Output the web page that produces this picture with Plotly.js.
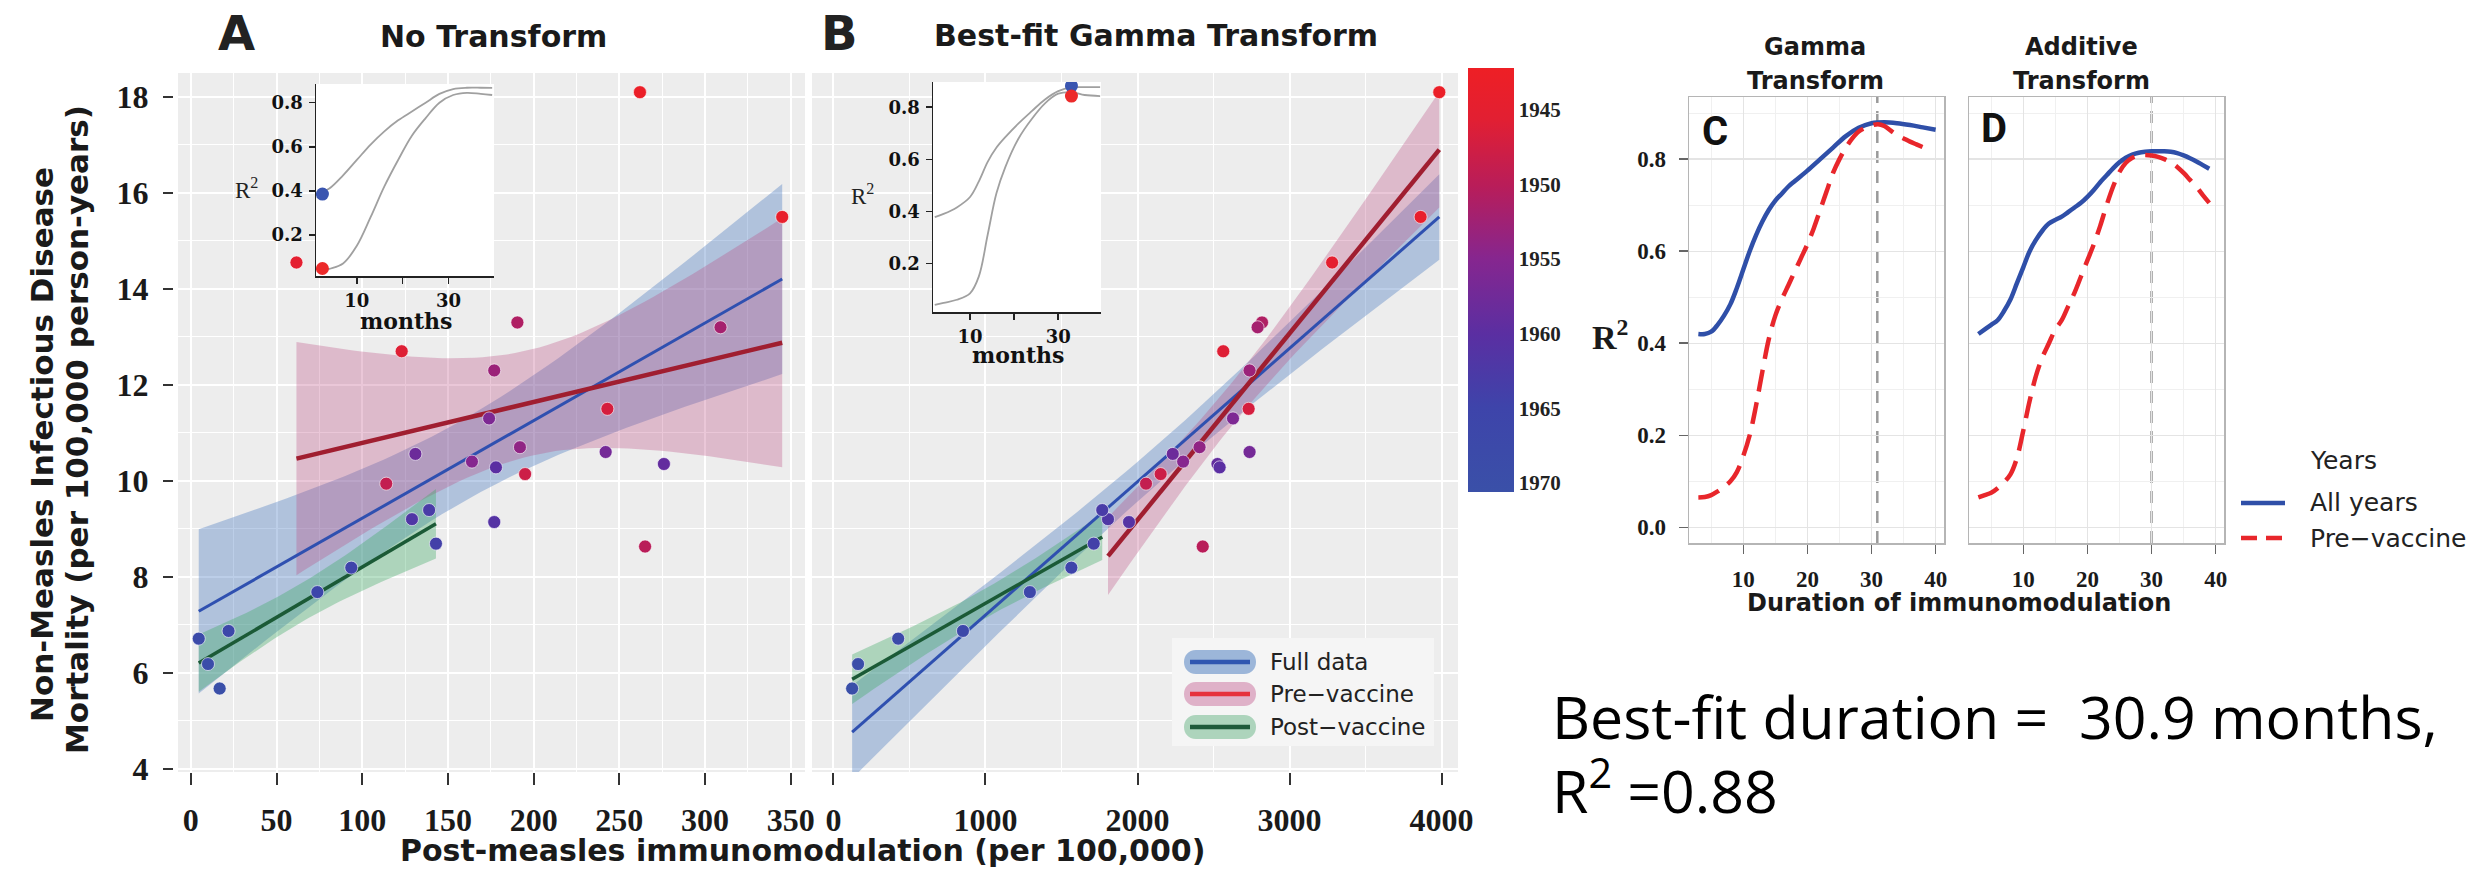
<!DOCTYPE html>
<html>
<head>
<meta charset="utf-8">
<script src="https://cdn.plot.ly/plotly-3.0.1.min.js"></script>
<style>
html,body{margin:0;padding:0;background:#ffffff;}
#chart{width:2483px;height:880px;}
</style>
</head>
<body>
<div id="chart"></div>
<script>
// ---------------- DATA ----------------
const years = [1943,1944,1945,1946,1947,1948,1949,1950,1951,1952,1953,1954,1955,1956,1957,1958,1959,1960,1961,1962,1963,1964,1965,1966,1967,1968,1969,1970];
const mortality = [18.1,15.5,14.55,12.7,11.5,10.14,9.94,8.63,13.3,13.2,12.3,10.7,10.4,11.3,10.6,10.56,10.35,10.28,9.14,9.2,9.39,8.69,8.19,7.68,6.87,6.71,6.18,5.67];
const immunoNoTransform = [262,345,61.6,123,243,195,114,265,190.5,309,177,192,164,174,242,131,276,178,177,129,139,143,93.6,73.8,22,4.6,10,16.8];
const immunoGamma = [3985,3862,3280,2564,2731,2152,2056,2429,2819,2790,2737,2408,2300,2628,2737,2232,2526,2540,1944,1806,1768,1712,1565,1292,852,426,162,123];
const vaccineYear = 1963;
const colorbarYears = [1945,1950,1955,1960,1965,1970];

// inset A (no transform) R2 vs months
const insetMonthsA = [1.5,4,7,10,13,16,19,22,25,28,31,34,37,39.5];
const insetAllA = [0.385,0.41,0.47,0.54,0.61,0.67,0.72,0.76,0.80,0.84,0.862,0.868,0.868,0.867];
const insetPreA = [0.03,0.045,0.07,0.15,0.28,0.42,0.54,0.65,0.73,0.80,0.835,0.845,0.84,0.835];
const insetDotMonthsA = [2.5,2.5];
const insetDotR2A = [0.385,0.047];
// inset B (gamma transform)
const insetMonthsB = [2,4,7,10,12,14,16,18,21,24,27,30,33,36,39.5];
const insetAllB = [0.378,0.39,0.415,0.455,0.515,0.59,0.645,0.685,0.738,0.785,0.83,0.862,0.876,0.877,0.877];
const insetPreB = [0.04,0.048,0.06,0.085,0.15,0.31,0.47,0.57,0.68,0.755,0.815,0.852,0.858,0.847,0.843];
const insetDotMonthsB = [33,33];
const insetDotR2B = [0.882,0.843];
const insetTickMonths = [10,30];
const insetMinorMonths = [20];
const insetTickR2 = [0.2,0.4,0.6,0.8];

// panel C (gamma transform)
const monthsCAll = [3,4,5,6,7,8,9,10,11,12,13,14,15,16,17,18,20,22,24,26,28,30,32,34,36,38,40];
const r2CAll = [0.42,0.42,0.425,0.44,0.46,0.485,0.52,0.56,0.60,0.635,0.665,0.69,0.71,0.725,0.74,0.752,0.775,0.80,0.825,0.85,0.868,0.878,0.88,0.878,0.874,0.869,0.864];
const monthsCPre = [3,4,5,6,7,8,9,10,11,12,13,14,15,16,17,18,19,20,21,22,23,24,25,26,27,28,29,30,31,32,33,34,35,36,37,38];
const r2CPre = [0.065,0.066,0.07,0.078,0.088,0.1,0.12,0.155,0.2,0.265,0.34,0.41,0.46,0.495,0.525,0.555,0.585,0.615,0.65,0.69,0.73,0.77,0.8,0.825,0.845,0.86,0.868,0.873,0.876,0.872,0.862,0.852,0.845,0.838,0.832,0.826];
// panel D (additive transform)
const monthsD = [3,4,5,6,7,8,9,10,11,12,13,14,15,16,17,18,19,20,21,22,23,24,25,26,27,28,29,30,31,32,33,34,35,36,37,38,39];
const r2DAll = [0.42,0.43,0.44,0.45,0.47,0.495,0.53,0.565,0.6,0.625,0.645,0.66,0.668,0.675,0.685,0.695,0.705,0.718,0.733,0.75,0.765,0.78,0.793,0.803,0.81,0.814,0.816,0.817,0.817,0.817,0.816,0.813,0.808,0.802,0.795,0.787,0.779];
const r2DPre = [0.065,0.07,0.075,0.085,0.098,0.115,0.15,0.21,0.275,0.33,0.37,0.40,0.43,0.45,0.48,0.51,0.545,0.58,0.615,0.655,0.7,0.74,0.772,0.792,0.803,0.808,0.809,0.808,0.805,0.8,0.793,0.783,0.77,0.755,0.74,0.722,0.705];
const bestFitC = 30.9;
const bestFitD = 30;

// ---------------- HELPERS ----------------
const W = 2483, H = 880;
const px = v => v / W;
const py = v => 1 - v / H;
const T975 = [12.706,4.303,3.182,2.776,2.571,2.447,2.365,2.306,2.262,2.228,2.201,2.179,2.160,2.145,2.131,2.120,2.110,2.101,2.093,2.086,2.080,2.074,2.069,2.064,2.060,2.056,2.052,2.048,2.045,2.042];

function lmBand(xs, ys, steps) {
  const n = xs.length;
  const mx = xs.reduce((a,b)=>a+b,0)/n, my = ys.reduce((a,b)=>a+b,0)/n;
  let sxx = 0, sxy = 0;
  for (let i=0;i<n;i++){ sxx += (xs[i]-mx)*(xs[i]-mx); sxy += (xs[i]-mx)*(ys[i]-my); }
  const b = sxy/sxx, a = my - b*mx;
  let sse = 0;
  for (let i=0;i<n;i++){ const r = ys[i]-a-b*xs[i]; sse += r*r; }
  const s = Math.sqrt(sse/(n-2));
  const t = (n-2) <= 30 ? T975[n-3] : 1.96;
  const lo = Math.min(...xs), hi = Math.max(...xs);
  const gx=[], fit=[], up=[], dn=[];
  for (let k=0;k<=steps;k++){
    const x = lo + (hi-lo)*k/steps;
    const f = a + b*x;
    const se = s*Math.sqrt(1/n + (x-mx)*(x-mx)/sxx);
    gx.push(x); fit.push(f); up.push(f+t*se); dn.push(f-t*se);
  }
  return {gx, fit, up, dn};
}

const preIdx = years.map((y,i)=> y < vaccineYear ? i : -1).filter(i=>i>=0);
const postIdx = years.map((y,i)=> y >= vaccineYear ? i : -1).filter(i=>i>=0);

function panelTraces(xv, xa, ya) {
  const groups = [
    {xs: xv, ys: mortality, fill:'rgba(70,120,190,0.36)', line:'#2f50b0', w:3},
    {xs: preIdx.map(i=>xv[i]), ys: preIdx.map(i=>mortality[i]), fill:'rgba(185,70,125,0.30)', line:'#a01e30', w:4.5},
    {xs: postIdx.map(i=>xv[i]), ys: postIdx.map(i=>mortality[i]), fill:'rgba(60,170,100,0.36)', line:'#1b5a36', w:3.5}
  ];
  const ribbons = [], lines = [];
  groups.forEach(g => {
    const r = lmBand(g.xs, g.ys, 60);
    ribbons.push({type:'scatter', mode:'lines', xaxis:xa, yaxis:ya,
      x: r.gx.concat(r.gx.slice().reverse()), y: r.up.concat(r.dn.slice().reverse()),
      fill:'toself', fillcolor:g.fill, line:{width:0}, hoverinfo:'skip', showlegend:false});
    lines.push({type:'scatter', mode:'lines', xaxis:xa, yaxis:ya, x:r.gx, y:r.fit,
      line:{color:g.line, width:g.w}, hoverinfo:'skip', showlegend:false});
  });
  const pts = {type:'scatter', mode:'markers', xaxis:xa, yaxis:ya, x:xv, y:mortality,
    marker:{size:13, color: years.map(y=>-y), coloraxis:'coloraxis', line:{width:1, color:'rgba(255,255,255,0.6)'}},
    hoverinfo:'skip', showlegend:false};
  return ribbons.concat(lines, [pts]);
}

function insetTraces(months, allv, prev, dotM, dotR, xa, ya) {
  return [
    {type:'scatter', mode:'lines', xaxis:xa, yaxis:ya, x:months, y:allv, line:{color:'#a0a0a0', width:1.8, shape:'spline'}, showlegend:false, hoverinfo:'skip'},
    {type:'scatter', mode:'lines', xaxis:xa, yaxis:ya, x:months, y:prev, line:{color:'#a0a0a0', width:1.8, shape:'spline'}, showlegend:false, hoverinfo:'skip'},
    {type:'scatter', mode:'markers', xaxis:xa, yaxis:ya, x:[dotM[0]], y:[dotR[0]], marker:{size:13, color:'#3a55b0'}, showlegend:false, hoverinfo:'skip'},
    {type:'scatter', mode:'markers', xaxis:xa, yaxis:ya, x:[dotM[1]], y:[dotR[1]], marker:{size:13, color:'#ec2a2a'}, showlegend:false, hoverinfo:'skip'}
  ];
}

const blueCD = '#2f4fa8', redCD = '#e8262b', dashCD = '22px,11px';
const traces = []
  .concat(panelTraces(immunoNoTransform, 'x', 'y'))
  .concat(panelTraces(immunoGamma, 'x2', 'y2'))
  .concat(insetTraces(insetMonthsA, insetAllA, insetPreA, insetDotMonthsA, insetDotR2A, 'x3', 'y3'))
  .concat(insetTraces(insetMonthsB, insetAllB, insetPreB, insetDotMonthsB, insetDotR2B, 'x4', 'y4'))
  .concat([
    {type:'scatter', mode:'lines', xaxis:'x5', yaxis:'y5', x:monthsCAll, y:r2CAll, name:'All years',
      line:{color:blueCD, width:4.5, shape:'spline'}, showlegend:false, hoverinfo:'skip'},
    {type:'scatter', mode:'lines', xaxis:'x5', yaxis:'y5', x:monthsCPre, y:r2CPre, name:'Pre\u2212vaccine',
      line:{color:redCD, width:4.5, dash:dashCD, shape:'spline'}, showlegend:false, hoverinfo:'skip'},
    {type:'scatter', mode:'lines', xaxis:'x6', yaxis:'y6', x:monthsD, y:r2DAll, name:'All years',
      line:{color:blueCD, width:4.5, shape:'spline'}, showlegend:false, hoverinfo:'skip'},
    {type:'scatter', mode:'lines', xaxis:'x6', yaxis:'y6', x:monthsD, y:r2DPre, name:'Pre\u2212vaccine',
      line:{color:redCD, width:4.5, dash:dashCD, shape:'spline'}, showlegend:false, hoverinfo:'skip'}
  ]);

// ---------------- AXES ----------------
const rangeY = [3.93, 18.5];
const rangeAx = [-7.5, 358.3];
const rangeBx = [-141, 4108];
const rangeInsetA = {x:[1.1,39.9], y:[0.013,0.885]};
const rangeInsetB = {x:[1.6,39.7], y:[0.013,0.897]};
const rangeCDx = [1.54, 41.3];
const rangeCDy = [-0.034, 0.935];

const serifBold = (size) => ({family:'Liberation Serif', size:size, color:'#1a1a1a', weight:'bold'});
const dvSerifBold = (size) => ({family:'DejaVu Serif', size:size, color:'#111', weight:'bold'});

const mainX = (dom, rng, dtick, anchor) => ({domain:dom, range:rng, tick0:0, dtick:dtick, ticks:'outside', ticklen:12, tickwidth:2, tickcolor:'#333',
  tickfont:serifBold(32), showgrid:true, gridcolor:'#ffffff', gridwidth:2,
  minor:{dtick:dtick/2, showgrid:true, gridcolor:'#ffffff', gridwidth:1, ticks:''},
  zeroline:false, showline:false, anchor:anchor, ticklabelstandoff:8, fixedrange:true});

const insetAx = (dom, rng, anchor, vals, minorVals) => ({domain:dom, range:rng, tickmode:'array', tickvals:vals,
  ticks:'outside', ticklen:6, tickwidth:1.5, tickcolor:'#222', showline:true, linecolor:'#222', linewidth:1.5,
  minor: minorVals ? {tickmode:'array', tickvals:minorVals, ticks:'outside', ticklen:6, tickwidth:1.5, tickcolor:'#222', showgrid:false} : undefined,
  showgrid:false, zeroline:false, anchor:anchor, tickfont:dvSerifBold(18), ticklabelstandoff:2, fixedrange:true});

const cdX = (dom, anchor) => ({domain:dom, range:rangeCDx, tick0:0, dtick:10, ticks:'outside', ticklen:9, tickwidth:1.5, tickcolor:'#666',
  tickfont:serifBold(23), showline:true, mirror:true, linecolor:'#b5b5b5', linewidth:1.5, showgrid:true, gridcolor:'#e4e4e4', gridwidth:1.3,
  minor:{dtick:5, showgrid:true, gridcolor:'#f0f0f0', gridwidth:1, ticks:''}, zeroline:false, anchor:anchor, ticklabelstandoff:6, fixedrange:true});
const cdY = (dom, anchor, labels) => ({domain:dom, range:rangeCDy, tick0:0, dtick:0.2, tickformat:'.1f', ticks: labels ? 'outside' : '', ticklen:9, tickwidth:1.5, tickcolor:'#666',
  showticklabels:labels, tickfont:serifBold(23), showline:true, mirror:true, linecolor:'#b5b5b5', linewidth:1.5, showgrid:true, gridcolor:'#e4e4e4', gridwidth:1.3,
  minor:{dtick:0.1, showgrid:true, gridcolor:'#f0f0f0', gridwidth:1, ticks:''}, zeroline:false, anchor:anchor, ticklabelstandoff:8, fixedrange:true});

const domAB_y = [py(772), py(73)];
const domCD_y = [py(543), py(97)];

// ---------------- TEXT ----------------
const sansBold = (size) => ({family:'DejaVu Sans', size:size, color:'#1a1a1a', weight:'bold'});
function ann(text, x, y, font, extra) {
  return Object.assign({text:text, x:px(x), y:py(y), xref:'paper', yref:'paper', showarrow:false, xanchor:'center', yanchor:'middle', font:font}, extra || {});
}
const annotations = [
  ann('A', 236, 33, {family:'DejaVu Sans', size:48, color:'#222', weight:'bold'}),
  ann('No Transform', 494, 37, sansBold(30)),
  ann('B', 839, 33, {family:'DejaVu Sans', size:48, color:'#222', weight:'bold'}),
  ann('Best-fit Gamma Transform', 1156, 36, sansBold(30)),
  ann('Non-Measles Infectious Disease', 42, 445, sansBold(31), {textangle:-90}),
  ann('Mortality (per 100,000 person-years)', 77, 430, sansBold(31), {textangle:-90}),
  ann('Post-measles immunomodulation (per 100,000)', 802, 850, sansBold(30)),
  ann('R<sup>2</sup>', 246, 188, {family:'Liberation Serif', size:23, color:'#222'}),
  ann('months', 406, 321, dvSerifBold(22)),
  ann('R<sup>2</sup>', 862, 194, {family:'Liberation Serif', size:23, color:'#222'}),
  ann('months', 1018, 355, dvSerifBold(22)),
  ann('Gamma', 1815, 47, sansBold(24)),
  ann('Transform', 1815, 81, sansBold(24)),
  ann('Additive', 2081, 47, sansBold(24)),
  ann('Transform', 2081, 81, sansBold(24)),
  ann('C', 1715, 131, {family:'Roboto', size:40, color:'#111', weight:'bold'}),
  ann('D', 1994, 128, {family:'Roboto', size:40, color:'#111', weight:'bold'}),
  ann('R<sup>2</sup>', 1610, 335, serifBold(34)),
  ann('Duration of immunomodulation', 1959, 603, sansBold(24)),
  ann('Best-fit duration =\u00a0 30.9 months,', 1550, 716, {family:'Open Sans', size:59, color:'#000'}, {xanchor:'left'}),
  ann('R<sup>2</sup> =0.88', 1550, 787, {family:'Open Sans', size:59, color:'#000'}, {xanchor:'left'}),
  ann('Years', 2308, 460, {family:'DejaVu Sans', size:25, color:'#222'}, {xanchor:'left'}),
  ann('All years', 2308, 503, {family:'DejaVu Sans', size:25, color:'#222'}, {xanchor:'left'}),
  ann('Pre\u2212vaccine', 2308, 538, {family:'DejaVu Sans', size:25, color:'#222'}, {xanchor:'left'})
];

// custom legend for panel B
const legRows = [
  {label:'Full data', y:662, pill:'rgba(140,170,212,0.85)', line:'#2f56b0'},
  {label:'Pre\u2212vaccine', y:694, pill:'rgba(218,165,192,0.85)', line:'#e6303c'},
  {label:'Post\u2212vaccine', y:727, pill:'rgba(160,206,178,0.85)', line:'#1e5a3a'}
];
const shapes = [
  {type:'rect', xref:'x', yref:'y', x0:rangeAx[0], x1:rangeAx[1], y0:rangeY[0], y1:rangeY[1], fillcolor:'#ededed', line:{width:0}, layer:'below'},
  {type:'rect', xref:'x2', yref:'y2', x0:rangeBx[0], x1:rangeBx[1], y0:rangeY[0], y1:rangeY[1], fillcolor:'#ededed', line:{width:0}, layer:'below'},
  {type:'rect', xref:'x3', yref:'y3', x0:rangeInsetA.x[0], x1:rangeInsetA.x[1], y0:rangeInsetA.y[0], y1:rangeInsetA.y[1], fillcolor:'#ffffff', line:{width:0}, layer:'below'},
  {type:'rect', xref:'x4', yref:'y4', x0:rangeInsetB.x[0], x1:rangeInsetB.x[1], y0:rangeInsetB.y[0], y1:rangeInsetB.y[1], fillcolor:'#ffffff', line:{width:0}, layer:'below'},
  {type:'line', xref:'x5', yref:'y5', x0:bestFitC, x1:bestFitC, y0:rangeCDy[0], y1:rangeCDy[1], line:{color:'#9a9a9a', width:2.5, dash:'12px,8px'}, layer:'below'},
  {type:'line', xref:'x6', yref:'y6', x0:bestFitD, x1:bestFitD, y0:rangeCDy[0], y1:rangeCDy[1], line:{color:'#9a9a9a', width:2.5, dash:'12px,8px'}, layer:'below'},
  {type:'rect', xref:'paper', yref:'paper', x0:px(1172), x1:px(1434), y0:py(746), y1:py(638), fillcolor:'#f5f5f5', line:{width:0}, layer:'above'},
  // C/D legend keys
  {type:'line', xref:'paper', yref:'paper', x0:px(2241), x1:px(2285), y0:py(503), y1:py(503), line:{color:blueCD, width:4.5}, layer:'above'},
  {type:'line', xref:'paper', yref:'paper', x0:px(2241), x1:px(2285), y0:py(538), y1:py(538), line:{color:redCD, width:4.5, dash:'16px,9px'}, layer:'above'}
];
legRows.forEach(r => {
  shapes.push({type:'path', xref:'paper', yref:'paper', xsizemode:'pixel', ysizemode:'pixel', xanchor:px(1220), yanchor:py(r.y),
    path:'M-24,-12 L24,-12 C40,-12 40,12 24,12 L-24,12 C-40,12 -40,-12 -24,-12 Z', fillcolor:r.pill, line:{width:0}, layer:'above'});
  shapes.push({type:'line', xref:'paper', yref:'paper', x0:px(1190), x1:px(1250), y0:py(r.y), y1:py(r.y), line:{color:r.line, width:4.5}, layer:'above'});
  annotations.push(ann(r.label, 1268, r.y, {family:'DejaVu Sans', size:23, color:'#222'}, {xanchor:'left'}));
});

const layout = {
  width:W, height:H, margin:{l:0,r:0,t:0,b:0,pad:0},
  paper_bgcolor:'#ffffff', plot_bgcolor:'rgba(0,0,0,0)',
  font:{family:'DejaVu Sans', color:'#222'},
  hovermode:false,
  showlegend:false,
  xaxis: mainX([px(178), px(805)], rangeAx, 50, 'y'),
  yaxis: {domain:domAB_y, range:rangeY, tick0:4, dtick:2, ticks:'outside', ticklen:10, tickwidth:2, tickcolor:'#333',
    tickfont:serifBold(32), showgrid:true, gridcolor:'#ffffff', gridwidth:2,
    minor:{dtick:1, showgrid:true, gridcolor:'#ffffff', gridwidth:1, ticks:''},
    zeroline:false, showline:false, anchor:'free', position:px(173), ticklabelstandoff:8, fixedrange:true},
  xaxis2: mainX([px(812), px(1458)], rangeBx, 1000, 'y2'),
  yaxis2: {domain:domAB_y, range:rangeY, tick0:4, dtick:2, ticks:'', showticklabels:false, showgrid:true, gridcolor:'#ffffff', gridwidth:2,
    minor:{dtick:1, showgrid:true, gridcolor:'#ffffff', gridwidth:1, ticks:''}, zeroline:false, showline:false, anchor:'x2', fixedrange:true},
  xaxis3: insetAx([px(316), px(494)], rangeInsetA.x, 'y3', insetTickMonths, insetMinorMonths),
  yaxis3: Object.assign(insetAx([py(276), py(84)], rangeInsetA.y, 'x3', insetTickR2, null), {tickformat:'.1f'}),
  xaxis4: insetAx([px(933), px(1101)], rangeInsetB.x, 'y4', insetTickMonths, insetMinorMonths),
  yaxis4: Object.assign(insetAx([py(312), py(82)], rangeInsetB.y, 'x4', insetTickR2, null), {tickformat:'.1f'}),
  xaxis5: cdX([px(1689), px(1944)], 'y5'),
  yaxis5: cdY(domCD_y, 'x5', true),
  xaxis6: cdX([px(1969), px(2224)], 'y6'),
  yaxis6: cdY(domCD_y, 'x6', false),
  coloraxis:{cmin:-1970.6, cmax:-1942.2,
    colorscale:[[0,'#3a50a8'],[0.2,'#3e44aa'],[0.37,'#5a2fa2'],[0.55,'#86268f'],[0.72,'#b81d5a'],[0.88,'#e21f32'],[1,'#ee1f25']],
    colorbar:{x:px(1468), xanchor:'left', xref:'paper', y:py(68), yanchor:'top', yref:'paper', len:424, lenmode:'pixels',
      thickness:46, thicknessmode:'pixels', xpad:0, ypad:0, outlinewidth:0, tickmode:'array',
      tickvals:colorbarYears.map(y=>-y), ticktext:colorbarYears.map(String), ticks:'',
      tickfont:{family:'Liberation Serif', size:21, color:'#222', weight:'bold'}}},
  annotations:annotations,
  shapes:shapes
};

Plotly.newPlot('chart', traces, layout, {staticPlot:true, displayModeBar:false});
</script>
</body>
</html>
